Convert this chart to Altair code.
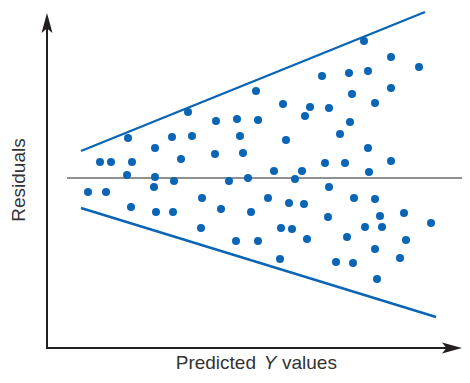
import altair as alt
import pandas as pd

# Predicted Y values (horizontal) and residuals (vertical)
predicted = [317, 344, 372, 275, 302, 321, 344, 209, 305, 236, 263, 282, 328, 141, 258,
             169, 190, 211, 303, 81, 125, 145, 193, 293, 239, 108, 321, 168, 196, 134,
             53, 64, 85, 278, 298, 344, 227, 255, 322, 80, 108, 201, 248, 127, 182,
             107, 282, 41, 59, 155, 221, 307, 328, 242, 257, 84, 174, 109, 126, 204,
             281, 333, 357, 384, 154, 234, 245, 318, 335, 189, 211, 260, 300, 359, 328,
             233, 289, 306, 353, 330]
residuals = [137, 121, 111, 102, 105, 107, 90, 87, 84, 74, 71, 70, 75, 66, 62,
             57, 59, 58, 56, 40, 41, 42, 42, 44, 38, 30, 30, 24, 25, 19,
             16, 16, 16, 15, 15, 17, 7, 7, 6, 3, 1, 0, -1, -3, -3,
             -9, -9, -14, -14, -20, -20, -20, -21, -25, -26, -29, -31, -34, -34, -34,
             -39, -38, -35, -45, -50, -50, -51, -49, -49, -63, -63, -61, -59, -62, -71,
             -81, -84, -85, -80, -101]

# Funnel (cone) boundary lines
cone_x_start = [34, 34]
cone_x_end = [378, 389]
cone_y_start = [27, -30]
cone_y_end = [166, -139]

# Zero residual reference line
zero_x = [20, 415]
zero_y = [0, 0]

BLUE = "#0a65b5"
W, H = 454, 367

xs = alt.Scale(domain=[-39, 415], nice=False, zero=False)
ys = alt.Scale(domain=[-197, 170], nice=False, zero=False)

pts = pd.DataFrame({"pred": predicted, "resid": residuals})
cone = pd.DataFrame({"x1": cone_x_start, "x2": cone_x_end, "y1": cone_y_start, "y2": cone_y_end})
zero = pd.DataFrame({"x1": [zero_x[0]], "x2": [zero_x[1]], "y": [zero_y[0]]})

zero_line = alt.Chart(zero).mark_rule(color="#6b6b6b", strokeWidth=1.6).encode(
    x=alt.X("x1:Q", scale=xs, axis=None),
    x2="x2:Q",
    y=alt.Y("y:Q", scale=ys, axis=None),
)

cone_lines = alt.Chart(cone).mark_rule(color=BLUE, strokeWidth=2.4).encode(
    x=alt.X("x1:Q", scale=xs, axis=None),
    x2="x2:Q",
    y=alt.Y("y1:Q", scale=ys, axis=None),
    y2="y2:Q",
)

points = alt.Chart(pts).mark_circle(size=64, opacity=1, color=BLUE).encode(
    x=alt.X("pred:Q", scale=xs, axis=None),
    y=alt.Y("resid:Q", scale=ys, axis=None),
)

AX = "#231f20"
y_axis = alt.Chart(pd.DataFrame({"a": [0]})).mark_rule(color=AX, strokeWidth=2).encode(
    x=alt.value(39), y=alt.value(16), y2=alt.value(341)
)
x_axis = alt.Chart(pd.DataFrame({"a": [0]})).mark_rule(color=AX, strokeWidth=2).encode(
    x=alt.value(38), x2=alt.value(444), y=alt.value(340)
)
y_arrow = alt.Chart(pd.DataFrame({"a": [0]})).mark_point(
    shape="M0,-1 L0.55,1 L0,0.55 L-0.55,1 Z", filled=True, opacity=1, color=AX, size=400
).encode(x=alt.value(39), y=alt.value(15))
x_arrow = alt.Chart(pd.DataFrame({"a": [0]})).mark_point(
    shape="M1,0 L-1,-0.55 L-0.55,0 L-1,0.55 Z", filled=True, opacity=1, color=AX, size=400
).encode(x=alt.value(444), y=alt.value(340))

FONT = "Liberation Sans"
TXT = "#333333"
TY = 361
t1 = alt.Chart(pd.DataFrame({"t": ["Predicted"]})).mark_text(
    font=FONT, fontSize=19, color=TXT, align="right", baseline="alphabetic"
).encode(text="t:N", x=alt.value(248), y=alt.value(TY))
t2 = alt.Chart(pd.DataFrame({"t": ["Y"]})).mark_text(
    font=FONT, fontSize=19, fontStyle="italic", color=TXT, align="center", baseline="alphabetic"
).encode(text="t:N", x=alt.value(262), y=alt.value(TY))
t3 = alt.Chart(pd.DataFrame({"t": ["values"]})).mark_text(
    font=FONT, fontSize=19, color=TXT, align="left", baseline="alphabetic"
).encode(text="t:N", x=alt.value(274), y=alt.value(TY))
t4 = alt.Chart(pd.DataFrame({"t": ["Residuals"]})).mark_text(
    font=FONT, fontSize=19, color=TXT, align="center", baseline="middle", angle=270
).encode(text="t:N", x=alt.value(11), y=alt.value(172))

chart = alt.layer(
    zero_line, cone_lines, points, y_axis, x_axis, y_arrow, x_arrow, t1, t2, t3, t4
).properties(
    width=W, height=H, autosize=alt.AutoSizeParams(type="none"), padding=0
).configure_view(stroke=None)

chart.save("out.html", embed_options={"renderer": "svg", "actions": False})
